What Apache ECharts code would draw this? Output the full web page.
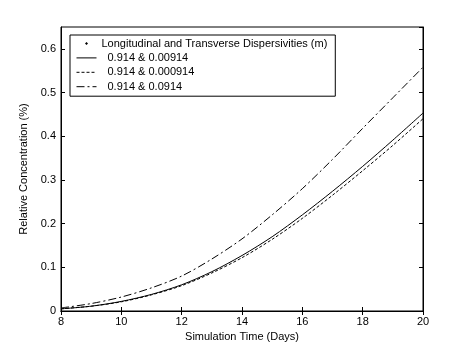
<!DOCTYPE html>
<html>
<head>
<meta charset="utf-8">
<script src="https://cdn.jsdelivr.net/npm/echarts@6/dist/echarts.min.js"></script>
<style>html,body{margin:0;padding:0;background:#fff}#c{width:467px;height:350px}</style>
</head>
<body>
<div id="c"></div>
<script>
var days = [8, 9, 10, 11, 12, 13, 14, 15, 16, 17, 18, 19, 20];
var seriesNames = ['0.914 & 0.00914', '0.914 & 0.000914', '0.914 & 0.0914'];
var headerName = 'Longitudinal and Transverse Dispersivities (m)';
var conc_00914  = [0.005, 0.011, 0.022, 0.038, 0.060, 0.090, 0.127, 0.170, 0.220, 0.274, 0.331, 0.391, 0.453];
var conc_000914 = [0.005, 0.011, 0.021, 0.037, 0.058, 0.087, 0.122, 0.164, 0.212, 0.265, 0.321, 0.379, 0.440];
var conc_0914   = [0.007, 0.017, 0.032, 0.053, 0.080, 0.119, 0.165, 0.220, 0.280, 0.347, 0.418, 0.488, 0.558];
var xTicks = [8, 10, 12, 14, 16, 18, 20];
var yTicks = [0, 0.1, 0.2, 0.3, 0.4, 0.5, 0.6];

function pairs(ys) { return days.map(function (d, i) { return [d, ys[i]]; }); }

var font = 'Liberation Sans, Arial, sans-serif';
var chart = echarts.init(document.getElementById('c'), null, {renderer: 'canvas'});
var tickStyle = {show: true, inside: true, length: 4, lineStyle: {color: '#000', width: 1}};
var lineBase = {type: 'line', symbol: 'none', smooth: 0.3, animation: false};
var hiddenSym = {color: 'rgba(0,0,0,0)', borderColor: 'rgba(0,0,0,0)', borderWidth: 0, opacity: 0};
var dashes = ['solid', [3, 2], [8, 3, 2, 3]];

chart.setOption({
  backgroundColor: '#fff',
  animation: false,
  grid: {left: 61, right: 44, top: 27, bottom: 39, show: true, borderColor: '#000', borderWidth: 1, backgroundColor: '#fff'},
  legend: {
    orient: 'vertical', left: 70, top: 35,
    itemWidth: 20, itemHeight: 12, itemGap: 1.4,
    padding: [2, 8, 3, 6],
    borderColor: '#000', borderWidth: 1, backgroundColor: '#fff',
    textStyle: {fontFamily: font, fontSize: 11, color: '#000', lineHeight: 13},
    selectedMode: false,
    data: [
      {name: headerName, icon: 'path://M0,0 M20,12 M8.5,6 L10,4.5 L11.5,6 L10,7.5 Z', itemStyle: {color: '#000'}},
      {name: seriesNames[0], textStyle: {padding: [0, 0, 0, 6]}, itemStyle: hiddenSym, lineStyle: {color: '#000', width: 1, type: dashes[0]}},
      {name: seriesNames[1], textStyle: {padding: [0, 0, 0, 6]}, itemStyle: hiddenSym, lineStyle: {color: '#000', width: 1, type: dashes[1]}},
      {name: seriesNames[2], textStyle: {padding: [0, 0, 0, 6]}, itemStyle: hiddenSym, lineStyle: {color: '#000', width: 1, type: dashes[2]}}
    ]
  },
  xAxis: [{
    type: 'value', min: 8, max: 20, interval: 2,
    name: 'Simulation Time (Days)', nameLocation: 'middle', nameGap: 19,
    nameTextStyle: {fontFamily: font, fontSize: 11, color: '#000'},
    axisLine: {show: true, lineStyle: {color: '#000'}},
    axisTick: tickStyle,
    axisLabel: {fontFamily: font, fontSize: 11, color: '#000', margin: 5},
    splitLine: {show: false}
  }, {
    type: 'value', min: 8, max: 20, interval: 2, position: 'top',
    axisLine: {show: true, lineStyle: {color: '#000'}},
    axisTick: tickStyle, axisLabel: {show: false}, splitLine: {show: false}
  }],
  yAxis: [{
    type: 'value', min: 0, max: 0.65, interval: 0.1,
    name: 'Relative Concentration (%)', nameLocation: 'middle', nameGap: 22,
    nameTextStyle: {fontFamily: font, fontSize: 11, color: '#000'},
    axisLine: {show: true, lineStyle: {color: '#000'}},
    axisTick: tickStyle,
    axisLabel: {fontFamily: font, fontSize: 11, color: '#000', margin: 5, showMaxLabel: false,
      formatter: function (v) { var r = Math.round(v * 10) / 10; return yTicks.indexOf(r) >= 0 && Math.abs(r - v) < 1e-9 ? String(r) : ''; }},
    splitLine: {show: false}
  }, {
    type: 'value', min: 0, max: 0.65, interval: 0.1, position: 'right',
    axisLine: {show: true, lineStyle: {color: '#000'}},
    axisTick: tickStyle, axisLabel: {show: false}, splitLine: {show: false}
  }],
  series: [
    Object.assign({}, lineBase, {name: headerName, data: [], itemStyle: {color: '#000'}}),
    Object.assign({}, lineBase, {name: seriesNames[0], data: pairs(conc_00914), itemStyle: {color: '#000'}, lineStyle: {color: '#000', width: 1, type: dashes[0]}}),
    Object.assign({}, lineBase, {name: seriesNames[1], data: pairs(conc_000914), itemStyle: {color: '#000'}, lineStyle: {color: '#000', width: 1, type: dashes[1]}}),
    Object.assign({}, lineBase, {name: seriesNames[2], data: pairs(conc_0914), itemStyle: {color: '#000'}, lineStyle: {color: '#000', width: 1, type: dashes[2]}})
  ]
});
</script>
</body>
</html>
